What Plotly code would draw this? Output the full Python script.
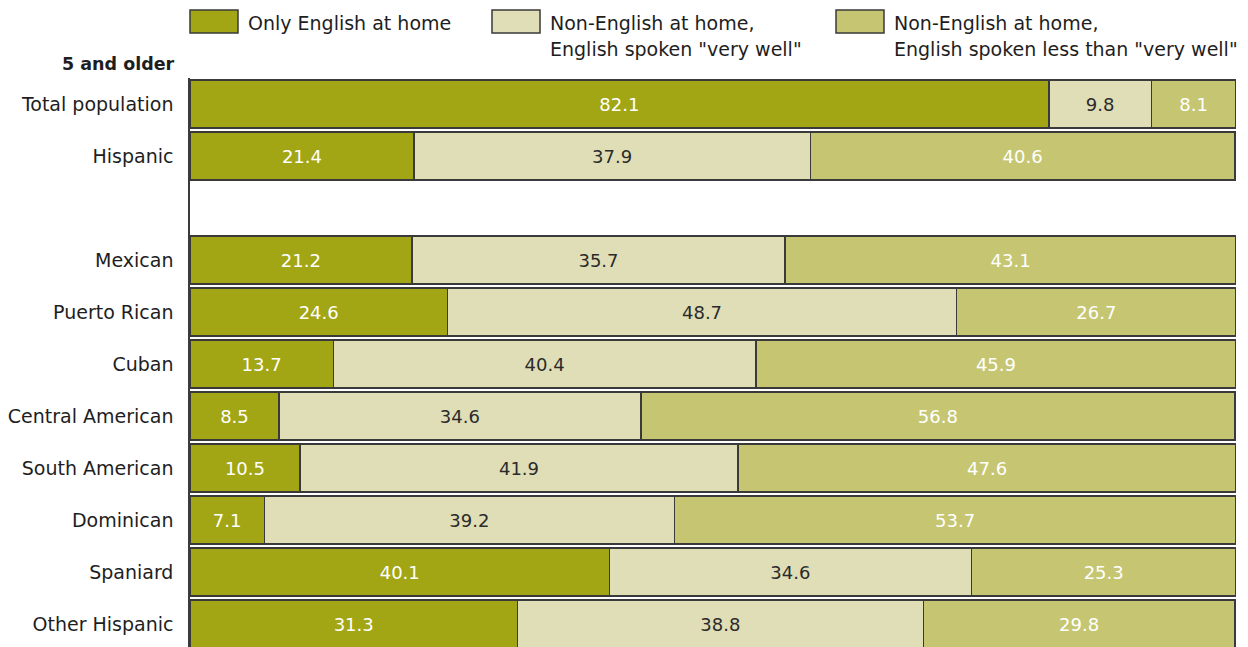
import plotly.graph_objects as go

categories = ["Total population", "Hispanic", " ", "Mexican", "Puerto Rican", "Cuban",
              "Central American", "South American", "Dominican", "Spaniard", "Other Hispanic"]
only_english = [82.1, 21.4, None, 21.2, 24.6, 13.7, 8.5, 10.5, 7.1, 40.1, 31.3]
very_well = [9.8, 37.9, None, 35.7, 48.7, 40.4, 34.6, 41.9, 39.2, 34.6, 38.8]
less_than = [8.1, 40.6, None, 43.1, 26.7, 45.9, 56.8, 47.6, 53.7, 25.3, 29.8]

series_names = ["Only English at home",
                "Non-English at home,<br>English spoken \"very well\"",
                "Non-English at home,<br>English spoken less than \"very well\""]
colors = ["#A3A614", "#E0DEB6", "#C6C672"]
text_colors = ["white", "#2b2b2b", "white"]
header = "5 and older"

OFF = 8  # page body margin
W, H = 1240, 639
L, R, T, B = 182, 12, 70, 0
PW, PH = W - L - R, H - T - B

def px2x(px):
    return (px - OFF - L) / PW

def px2y(py):
    return (H - B - (py - OFF)) / PH

FONT = "DejaVu Sans"

fig = go.Figure()
for vals, name, col, tcol in zip([only_english, very_well, less_than], series_names, colors, text_colors):
    fig.add_trace(go.Bar(
        y=categories, x=vals, orientation="h", name=name.replace("<br>", " "),
        marker=dict(color=col, line=dict(color="#3a3a3a", width=1.5)),
        text=[("" if v is None else f"{v:.1f}") for v in vals],
        textposition="inside", insidetextanchor="middle", textangle=0,
        textfont=dict(color=tcol, size=18, family=FONT),
        showlegend=False, hoverinfo="x+y",
    ))

fig.update_layout(
    width=W, height=H, barmode="stack", bargap=4 / 52,
    margin=dict(l=L, r=R, t=T, b=B, pad=0),
    paper_bgcolor="white", plot_bgcolor="white",
    font=dict(family=FONT, size=19, color="#1e1e1e"),
    xaxis=dict(range=[0, 100], visible=False, fixedrange=True),
    yaxis=dict(type="category", categoryorder="array", categoryarray=categories,
               range=[-0.5 + PH / 52, -0.5], showline=True, linecolor="#3a3a3a", linewidth=1.5,
               ticks="", ticklabelstandoff=11, tickfont=dict(size=19, family=FONT, color="#1e1e1e"),
               showgrid=False, zeroline=False, fixedrange=True),
)

# Header annotation
fig.add_annotation(xref="paper", yref="paper", x=px2x(177), y=px2y(64), text="<b>" + header + "</b>",
                   showarrow=False, xanchor="right", yanchor="middle",
                   font=dict(size=17.5, family=FONT, color="#1e1e1e"))

# Custom legend
legend_x = [190, 492, 836]
for lx, name, col in zip(legend_x, series_names, colors):
    fig.add_shape(type="rect", xref="paper", yref="paper",
                  x0=px2x(lx), x1=px2x(lx + 48), y0=px2y(33), y1=px2y(10),
                  fillcolor=col, line=dict(color="#3a3a3a", width=1.5))
    for i, line in enumerate(name.split("<br>")):
        fig.add_annotation(xref="paper", yref="paper", x=px2x(lx + 56), y=px2y(23 + 26 * i),
                           text=line, showarrow=False, xanchor="left", yanchor="middle", align="left",
                           font=dict(size=19, family=FONT, color="#1e1e1e"))

fig.write_html("out.html")
